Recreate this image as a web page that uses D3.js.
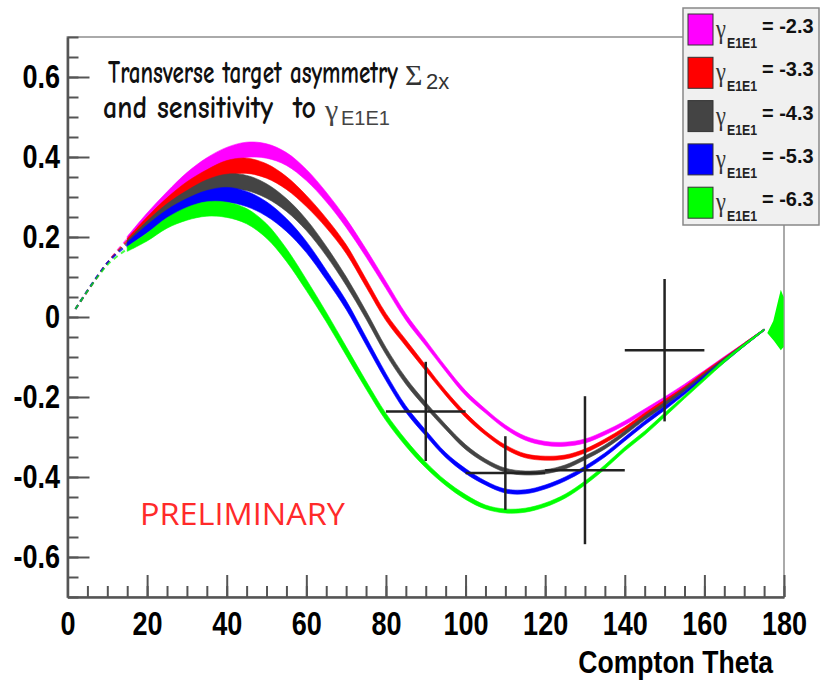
<!DOCTYPE html>
<html>
<head>
<meta charset="utf-8">
<script src="https://cdn.jsdelivr.net/npm/d3@7"></script>
<style>
body { margin: 0; background: #fff; }
text { white-space: pre; }
</style>
</head>
<body>
<script>
var theta = [2, 10, 15, 20, 25, 30, 35, 40, 45, 50, 55, 60, 65, 70, 75, 80, 85, 90,
             95, 100, 105, 110, 115, 120, 125, 130, 135, 140, 145, 150, 155, 160, 165, 170, 175];

// Sigma_2x for each gamma_E1E1 value
var sig_m23 = [0.02, 0.135, 0.195, 0.25, 0.30, 0.345, 0.38, 0.405, 0.418, 0.415, 0.395, 0.355, 0.30, 0.235, 0.16, 0.08, 0.0, -0.065,
               -0.13, -0.19, -0.235, -0.275, -0.303, -0.316, -0.318, -0.31, -0.29, -0.265, -0.235, -0.205, -0.172, -0.138, -0.103, -0.068, -0.032];
var sig_m33 = [0.02, 0.135, 0.19, 0.24, 0.285, 0.322, 0.35, 0.372, 0.378, 0.365, 0.335, 0.29, 0.235, 0.17, 0.085, 0.0, -0.065, -0.128,
               -0.19, -0.245, -0.29, -0.325, -0.347, -0.353, -0.35, -0.335, -0.31, -0.28, -0.245, -0.212, -0.178, -0.14, -0.105, -0.068, -0.032];
var sig_m43 = [0.02, 0.135, 0.185, 0.23, 0.27, 0.30, 0.325, 0.338, 0.335, 0.315, 0.28, 0.23, 0.165, 0.09, 0.005, -0.085, -0.16, -0.22,
               -0.275, -0.325, -0.36, -0.383, -0.39, -0.387, -0.375, -0.352, -0.325, -0.29, -0.252, -0.218, -0.182, -0.145, -0.107, -0.07, -0.032];
var sig_m53 = [0.02, 0.135, 0.18, 0.22, 0.255, 0.28, 0.298, 0.305, 0.295, 0.27, 0.23, 0.175, 0.105, 0.03, -0.06, -0.15, -0.23, -0.29,
               -0.345, -0.385, -0.415, -0.435, -0.437, -0.425, -0.405, -0.378, -0.345, -0.305, -0.265, -0.228, -0.19, -0.15, -0.11, -0.07, -0.032];
var sig_m63 = [0.02, 0.13, 0.17, 0.20, 0.235, 0.258, 0.27, 0.268, 0.252, 0.215, 0.155, 0.08, 0.0, -0.085, -0.17, -0.25, -0.315, -0.37,
               -0.415, -0.45, -0.475, -0.485, -0.483, -0.47, -0.448, -0.415, -0.375, -0.33, -0.29, -0.245, -0.2, -0.155, -0.11, -0.07, -0.032];

// half width of each band
var band_half = [0, 0, 0.006, 0.01, 0.013, 0.016, 0.018, 0.019, 0.019, 0.018, 0.016, 0.014, 0.012, 0.011, 0.01, 0.009, 0.008, 0.007,
                 0.006, 0.006, 0.005, 0.005, 0.005, 0.005, 0.005, 0.005, 0.005, 0.005, 0.005, 0.005, 0.004, 0.004, 0.004, 0.003, 0.002];

var gamma_labels = ["-2.3", "-3.3", "-4.3", "-5.3", "-6.3"];

// green spike at 180 deg
var flare_theta = [175.8, 177.3, 178.5, 179.2, 179.9, 179.9, 179.2, 177.5];
var flare_sig = [-0.04, -0.01, 0.04, 0.068, 0.05, -0.075, -0.083, -0.06];

// measured points
var data_theta = [90, 110, 130, 150];
var data_sig = [-0.236, -0.39, -0.383, -0.083];
var data_dtheta = [10, 10, 10, 10];
var data_dsig = [0.124, 0.092, 0.185, 0.178];

var x_ticks = [0, 20, 40, 60, 80, 100, 120, 140, 160, 180];
var y_ticks = [-0.6, -0.4, -0.2, 0, 0.2, 0.4, 0.6];

var series = [sig_m23, sig_m33, sig_m43, sig_m53, sig_m63];
var colors = ["#ff00ff", "#ff0000", "#444444", "#0000ff", "#00ff00"];

var width = 823, height = 693;
var sans = "'Liberation Sans', Arial, sans-serif";

var svg = d3.select("body").append("svg")
    .attr("width", width)
    .attr("height", height);

var x = d3.scaleLinear().domain([0, 180]).range([67.5, 784]);
var y = d3.scaleLinear().domain([-0.7, 0.7]).range([597, 37]);

// frame
svg.append("rect")
    .attr("x", x(0)).attr("y", y(0.7))
    .attr("width", x(180) - x(0)).attr("height", y(-0.7) - y(0.7))
    .attr("fill", "none").attr("stroke", "#aaa").attr("stroke-width", 2);

// bands
series.forEach(function(s, k) {
    var pts = theta.map(function(t, i) { return {t: t, v: s[i], h: band_half[i]}; });
    var dashed = pts.filter(function(d) { return d.t <= 15; });
    var solid = pts.filter(function(d) { return d.t >= 15; });

    svg.append("path")
        .attr("d", d3.line()
            .x(function(d) { return x(d.t); })
            .y(function(d) { return y(d.v); })
            .curve(d3.curveCatmullRom)(dashed))
        .attr("fill", "none")
        .attr("stroke", colors[k])
        .attr("stroke-width", 2)
        .attr("stroke-dasharray", "5,4")
        .attr("opacity", 0.7);

    svg.append("path")
        .attr("d", d3.area()
            .x(function(d) { return x(d.t); })
            .y0(function(d) { return y(d.v - d.h); })
            .y1(function(d) { return y(d.v + d.h); })
            .curve(d3.curveCatmullRom)(solid))
        .attr("fill", colors[k])
        .attr("stroke", colors[k])
        .attr("stroke-width", 0.6);
});

svg.append("path")
    .attr("d", d3.line()
        .x(function(d, i) { return x(flare_theta[i]); })
        .y(function(d, i) { return y(flare_sig[i]); })
        .curve(d3.curveLinearClosed)(flare_theta))
    .attr("fill", "#00ff00");

// error bars
var pts = svg.append("g").attr("stroke", "#222").attr("stroke-width", 2.5);
data_theta.forEach(function(t, i) {
    pts.append("line")
        .attr("x1", x(t - data_dtheta[i])).attr("x2", x(t + data_dtheta[i]))
        .attr("y1", y(data_sig[i])).attr("y2", y(data_sig[i]));
    pts.append("line")
        .attr("x1", x(t)).attr("x2", x(t))
        .attr("y1", y(data_sig[i] + data_dsig[i])).attr("y2", y(data_sig[i] - data_dsig[i]));
});

// axes
function style_axis(g) {
    g.selectAll("path.domain").attr("stroke", "#555").attr("stroke-width", 2.5);
    g.selectAll(".tick line").attr("stroke", "#555").attr("stroke-width", 2);
    g.selectAll(".tick text")
        .attr("fill", "#000")
        .attr("transform", "scale(0.82,1)")
        .style("font-family", sans)
        .style("font-weight", "bold")
        .style("font-size", "33px");
}

svg.append("g")
    .attr("transform", "translate(0," + y(-0.7) + ")")
    .call(d3.axisBottom(x).tickValues(d3.range(0, 181, 5)).tickSize(-11).tickFormat(""))
    .call(function(g) { g.select(".domain").remove(); })
    .call(style_axis);
svg.append("g")
    .attr("transform", "translate(" + x(0) + ",0)")
    .call(d3.axisLeft(y).tickValues(d3.range(-0.7, 0.701, 0.05)).tickSize(-11).tickFormat(""))
    .call(function(g) { g.select(".domain").remove(); })
    .call(style_axis);

svg.append("g")
    .attr("transform", "translate(0," + y(-0.7) + ")")
    .call(d3.axisBottom(x).tickValues(x_ticks).tickSize(-22).tickSizeOuter(0).tickPadding(15).tickFormat(d3.format("d")))
    .call(style_axis);
svg.append("g")
    .attr("transform", "translate(" + x(0) + ",0)")
    .call(d3.axisLeft(y).tickValues(y_ticks).tickSize(-22).tickSizeOuter(0).tickPadding(9)
        .tickFormat(function(d) { return Math.abs(d) < 1e-9 ? "0" : d3.format(".1f")(d).replace("\u2212", "-"); }))
    .call(style_axis);

svg.append("text")
    .attr("transform", "translate(773,673) scale(0.83,1)")
    .attr("text-anchor", "end")
    .style("font-family", sans).style("font-weight", "bold").style("font-size", "32px")
    .text("Compton Theta");

// squeeze a text horizontally so it spans the wanted width
function fit_text(sel, px, py, wanted) {
    var w = sel.node().getComputedTextLength();
    sel.attr("transform", "translate(" + px + "," + py + ") scale(" + (wanted / w) + ",1)");
    return sel;
}

// title
var tfont = "'Comic Sans MS', 'Comic Neue', Lato, sans-serif";
fit_text(svg.append("text")
    .style("font-family", tfont).style("font-size", "33px").style("font-weight", "bold").attr("fill", "#111")
    .text("Transverse target asymmetry"), 108, 83, 290);
svg.append("text")
    .attr("x", 405).attr("y", 85)
    .style("font-family", "'Liberation Serif', serif").style("font-size", "30px").attr("fill", "#333")
    .text("\u03a3");
svg.append("text")
    .attr("x", 426).attr("y", 89)
    .style("font-family", sans).style("font-size", "22px").attr("fill", "#333")
    .text("2x");
fit_text(svg.append("text")
    .style("font-family", tfont).style("font-size", "33px").style("font-weight", "bold").attr("fill", "#111")
    .text("and sensitivity  to"), 103, 118, 213);
svg.append("text")
    .attr("x", 325).attr("y", 120)
    .style("font-family", "'Liberation Serif', serif").style("font-size", "30px").attr("fill", "#444")
    .text("\u03b3");
svg.append("text")
    .attr("x", 341).attr("y", 125)
    .style("font-family", sans).style("font-size", "20px").attr("fill", "#444")
    .text("E1E1");

fit_text(svg.append("text")
    .style("font-family", "'Open Sans', sans-serif").style("font-size", "31px").attr("fill", "#ff2a2a")
    .text("PRELIMINARY"), 140, 525, 205);

// legend
var lg = svg.append("g");
lg.append("rect")
    .attr("x", 683).attr("y", 8).attr("width", 136).attr("height", 217)
    .attr("fill", "#f0f0f0").attr("stroke", "#888").attr("stroke-width", 1.5);
gamma_labels.forEach(function(lab, i) {
    var top = 14 + i * 43.3;
    lg.append("rect")
        .attr("x", 688).attr("y", top).attr("width", 25).attr("height", 31)
        .attr("fill", colors[i]).attr("stroke", "#333").attr("stroke-width", 1);
    lg.append("text")
        .attr("transform", "translate(716," + (top + 24) + ") scale(0.8,1)")
        .style("font-family", "'Liberation Serif', serif").style("font-size", "28px").attr("fill", "#333")
        .text("\u03b3");
    lg.append("text")
        .attr("transform", "translate(727," + (top + 34) + ") scale(0.82,1)")
        .style("font-family", sans).style("font-weight", "bold").style("font-size", "15px").attr("fill", "#222")
        .text("E1E1");
    lg.append("text")
        .attr("transform", "translate(762," + (top + 19) + ") scale(0.95,1)")
        .style("font-family", sans).style("font-weight", "bold").style("font-size", "21px").attr("fill", "#111")
        .text("= " + lab);
});
</script>
</body>
</html>
